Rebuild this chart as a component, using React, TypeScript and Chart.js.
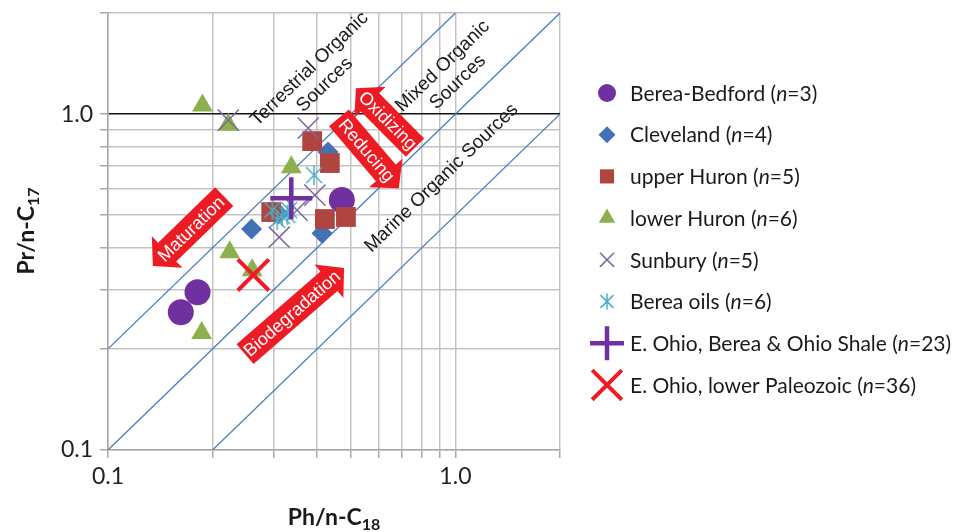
import React, { useEffect, useRef } from 'react';
import { Chart, registerables } from 'chart.js';

Chart.register(...registerables);

// ---------- data ----------
const bereaBedford = [ { x: 0.471, y: 0.555 }, { x: 0.181, y: 0.295 }, { x: 0.162, y: 0.257 } ];
const cleveland = [ { x: 0.259, y: 0.455 }, { x: 0.413, y: 0.442 }, { x: 0.43, y: 0.771 }, { x: 0.31, y: 0.505 } ];
const upperHuron = [ { x: 0.387, y: 0.831 }, { x: 0.435, y: 0.715 }, { x: 0.295, y: 0.511 }, { x: 0.421, y: 0.487 }, { x: 0.484, y: 0.494 } ];
const lowerHuron = [ { x: 0.187, y: 1.06 }, { x: 0.222, y: 0.93 }, { x: 0.337, y: 0.695 }, { x: 0.224, y: 0.388 }, { x: 0.26, y: 0.343 }, { x: 0.186, y: 0.223 } ];
const sunbury = [ { x: 0.222, y: 0.96 }, { x: 0.377, y: 0.908 }, { x: 0.394, y: 0.574 }, { x: 0.311, y: 0.43 }, { x: 0.35, y: 0.518 } ];
const bereaOils = [ { x: 0.392, y: 0.658 }, { x: 0.297, y: 0.518 }, { x: 0.317, y: 0.497 }, { x: 0.332, y: 0.518 }, { x: 0.307, y: 0.484 }, { x: 0.328, y: 0.501 } ];
const eOhioBereaShale = [ { x: 0.337, y: 0.562 } ];
const eOhioLowerPaleozoic = [ { x: 0.262, y: 0.332 } ];

const seriesNames = [
  'Berea-Bedford', 'Cleveland', 'upper Huron', 'lower Huron', 'Sunbury', 'Berea oils',
  'E. Ohio, Berea & Ohio Shale', 'E. Ohio, lower Paleozoic',
];
const seriesCounts = [3, 4, 5, 6, 5, 6, 23, 36];
const seriesData = [bereaBedford, cleveland, upperHuron, lowerHuron, sunbury, bereaOils, eOhioBereaShale, eOhioLowerPaleozoic];

// Pr/Ph ratio reference lines (Pr/nC17 = k * Ph/nC18)
const ratioLineTerrestrial = [ { x: 0.1, y: 0.2 }, { x: 1, y: 2 } ];
const ratioLineMixed = [ { x: 0.1, y: 0.1 }, { x: 2, y: 2 } ];
const ratioLineMarine = [ { x: 0.2, y: 0.1 }, { x: 2, y: 1 } ];

const axisTicks = [0.1, 0.2, 0.3, 0.4, 0.5, 0.6, 0.7, 0.8, 0.9, 1, 2];
const labeledTickValues = [0.1, 1];
const labeledTickTexts = ['0.1', '1.0'];

const regionLabels = [
  { lines: ['Terrestrial Organic', 'Sources'], x: 0.40, y: 1.29 },
  { lines: ['Mixed Organic', 'Sources'], x: 0.967, y: 1.315 },
  { lines: ['Marine Organic Sources'], x: 0.912, y: 0.645 },
];
const processArrows = [
  { text: 'Maturation', from: { x: 0.216, y: 0.568 }, to: { x: 0.1346, y: 0.353 } },
  { text: 'Oxidizing', from: { x: 0.765, y: 0.795 }, to: { x: 0.517, y: 1.195 } },
  { text: 'Reducing', from: { x: 0.462, y: 0.975 }, to: { x: 0.687, y: 0.602 } },
  { text: 'Biodegradation', from: { x: 0.248, y: 0.193 }, to: { x: 0.478, y: 0.348 } },
];

// ---------- styles ----------
const markerStyles = [
  { kind: 'circle', color: '#7030a0', radius: 13, bw: 0, lr: 9, lw: 0 },
  { kind: 'diamond', color: '#4272b5', radius: 10.5, bw: 0, lr: 8.5, lw: 0 },
  { kind: 'square', color: '#b0453f', radius: 14, bw: 0, lr: 10, lw: 0 },
  { kind: 'triangle', color: '#8cb04c', radius: 12, bw: 0, lr: 9.5, lw: 0 },
  { kind: 'x', color: '#8064a2', radius: 15, bw: 1.5, lr: 10, lw: 1.5 },
  { kind: 'asterisk', color: '#4bacc6', radius: 10, bw: 1.5, lr: 8, lw: 1.5 },
  { kind: 'plus', color: '#7030a0', radius: 21, bw: 4.5, lr: 17, lw: 4.5 },
  { kind: 'bigx', color: '#ee1c25', radius: 22, bw: 4, lr: 21, lw: 4 },
];

function makeAsterisk(size: number, color: string, lw: number) {
  const c = document.createElement('canvas');
  c.width = size; c.height = size;
  const g = c.getContext('2d')!;
  const h = size / 2;
  const r = h - 1;
  const d = r * 0.8;
  g.strokeStyle = color; g.lineWidth = lw; g.lineCap = 'butt';
  g.beginPath();
  g.moveTo(h, h - r); g.lineTo(h, h + r);
  g.moveTo(h - d, h - d); g.lineTo(h + d, h + d);
  g.moveTo(h + d, h - d); g.lineTo(h - d, h + d);
  g.stroke();
  return c;
}

function drawMarker(ctx: CanvasRenderingContext2D, kind: string, x: number, y: number, r: number, color: string, lw: number) {
  ctx.save();
  ctx.fillStyle = color; ctx.strokeStyle = color; ctx.lineWidth = lw;
  ctx.beginPath();
  if (kind === 'circle') { ctx.arc(x, y, r, 0, Math.PI * 2); ctx.fill(); }
  else if (kind === 'diamond') { ctx.moveTo(x - r, y); ctx.lineTo(x, y - r); ctx.lineTo(x + r, y); ctx.lineTo(x, y + r); ctx.closePath(); ctx.fill(); }
  else if (kind === 'square') { const s = r * 0.7071; ctx.rect(x - s, y - s, 2 * s, 2 * s); ctx.fill(); }
  else if (kind === 'triangle') {
    ctx.moveTo(x, y - r); ctx.lineTo(x + r * 0.866, y + r * 0.5); ctx.lineTo(x - r * 0.866, y + r * 0.5); ctx.closePath(); ctx.fill();
  }
  else if (kind === 'x' || kind === 'bigx') {
    const d = r * 0.7071;
    ctx.moveTo(x - d, y - d); ctx.lineTo(x + d, y + d); ctx.moveTo(x + d, y - d); ctx.lineTo(x - d, y + d); ctx.stroke();
  }
  else if (kind === 'asterisk') {
    const d = r * 0.8;
    ctx.moveTo(x, y - r); ctx.lineTo(x, y + r);
    ctx.moveTo(x - d, y - d); ctx.lineTo(x + d, y + d); ctx.moveTo(x + d, y - d); ctx.lineTo(x - d, y + d); ctx.stroke();
  }
  else if (kind === 'plus') {
    ctx.moveTo(x - r, y); ctx.lineTo(x + r, y); ctx.moveTo(x, y - r); ctx.lineTo(x, y + r); ctx.stroke();
  }
  ctx.restore();
}

function drawArrow(ctx: CanvasRenderingContext2D, x1: number, y1: number, x2: number, y2: number, text: string) {
  const dx = x2 - x1, dy = y2 - y1;
  const len = Math.hypot(dx, dy);
  const ang = Math.atan2(dy, dx);
  const shaftW = 26, headW = 44, headL = 20;
  ctx.save();
  ctx.translate(x1, y1);
  ctx.rotate(ang);
  ctx.beginPath();
  ctx.moveTo(0, -shaftW / 2);
  ctx.lineTo(len - headL, -shaftW / 2);
  ctx.lineTo(len - headL, -headW / 2);
  ctx.lineTo(len, 0);
  ctx.lineTo(len - headL, headW / 2);
  ctx.lineTo(len - headL, shaftW / 2);
  ctx.lineTo(0, shaftW / 2);
  ctx.closePath();
  ctx.fillStyle = '#ed1c24';
  ctx.fill();
  ctx.translate((len - headL * 0.35) / 2, 0);
  if (Math.abs(ang) > Math.PI / 2) ctx.rotate(Math.PI);
  ctx.fillStyle = '#ffffff';
  ctx.font = '18px "Liberation Sans", Arial, sans-serif';
  ctx.textAlign = 'center';
  ctx.textBaseline = 'middle';
  ctx.fillText(text, 0, 1);
  ctx.restore();
}

function drawSubscripted(ctx: CanvasRenderingContext2D, main: string, sub: string, x: number, y: number, rotate: boolean) {
  ctx.save();
  ctx.fillStyle = '#1a1a1a';
  ctx.font = 'bold 23px Lato, sans-serif';
  const w1 = ctx.measureText(main).width;
  ctx.font = 'bold 16px Lato, sans-serif';
  const w2 = ctx.measureText(sub).width;
  const total = w1 + w2;
  ctx.translate(x, y);
  if (rotate) ctx.rotate(-Math.PI / 2);
  ctx.textAlign = 'left';
  ctx.textBaseline = 'alphabetic';
  ctx.font = 'bold 23px Lato, sans-serif';
  ctx.fillText(main, -total / 2, 0);
  ctx.font = 'bold 16px Lato, sans-serif';
  ctx.fillText(sub, -total / 2 + w1, 5);
  ctx.restore();
}

const decorPlugin = {
  id: 'decor',
  afterDatasetsDraw(chart: any) {
    const ctx: CanvasRenderingContext2D = chart.ctx;
    const xs = chart.scales.x, ys = chart.scales.y;
    // region labels
    ctx.save();
    ctx.fillStyle = '#1a1a1a';
    ctx.font = '19px "Liberation Sans", Arial, sans-serif';
    ctx.textAlign = 'center';
    ctx.textBaseline = 'middle';
    regionLabels.forEach((lab) => {
      const px = xs.getPixelForValue(lab.x), py = ys.getPixelForValue(lab.y);
      ctx.save();
      ctx.translate(px, py);
      ctx.rotate(-44 * Math.PI / 180);
      const lh = 22;
      const n = lab.lines.length;
      lab.lines.forEach((t, i) => {
        ctx.fillText(t, 0, (i - (n - 1) / 2) * lh);
      });
      ctx.restore();
    });
    ctx.restore();
    processArrows.forEach((a) => {
      drawArrow(ctx, xs.getPixelForValue(a.from.x), ys.getPixelForValue(a.from.y),
        xs.getPixelForValue(a.to.x), ys.getPixelForValue(a.to.y), a.text);
    });
  },
  afterDraw(chart: any) {
    const ctx: CanvasRenderingContext2D = chart.ctx;
    // legend
    const lx = 607, tx = 630, y0 = 93, dy = 41.7;
    seriesNames.forEach((name, i) => {
      const st = markerStyles[i];
      const y = y0 + i * dy;
      drawMarker(ctx, st.kind, lx, y, st.lr, st.color, st.lw);
      ctx.save();
      ctx.fillStyle = '#1a1a1a';
      ctx.textBaseline = 'middle';
      ctx.textAlign = 'left';
      const parts: [string, boolean][] = [[name + ' (', false], ['n', true], ['=' + seriesCounts[i] + ')', false]];
      let x = tx;
      parts.forEach(([t, it]) => {
        ctx.font = (it ? 'italic ' : '') + '21px Lato, sans-serif';
        ctx.fillText(t, x, y + 1);
        x += ctx.measureText(t).width;
      });
      ctx.restore();
    });
    // axis titles
    drawSubscripted(ctx, 'Ph/n-C', '18', 334, 525, false);
    drawSubscripted(ctx, 'Pr/n-C', '17', 34, 231, true);
  },
};

export default function App() {
  const ref = useRef<HTMLCanvasElement>(null);
  useEffect(() => {
    document.body.style.margin = '0';
    const asterisk = makeAsterisk(22, markerStyles[5].color, markerStyles[5].bw);
    const n = seriesData.length;
    const pointSets = seriesData.map((data, i) => {
      const st = markerStyles[i];
      let pointStyle: any = 'circle';
      if (st.kind === 'diamond') pointStyle = 'rectRot';
      else if (st.kind === 'square') pointStyle = 'rect';
      else if (st.kind === 'triangle') pointStyle = 'triangle';
      else if (st.kind === 'x' || st.kind === 'bigx') pointStyle = 'crossRot';
      else if (st.kind === 'plus') pointStyle = 'cross';
      else if (st.kind === 'asterisk') pointStyle = asterisk;
      return {
        label: seriesNames[i],
        data,
        pointStyle,
        pointRadius: st.radius,
        pointBackgroundColor: st.color,
        pointBorderColor: st.color,
        pointBorderWidth: st.bw,
        showLine: false,
        order: n - i,
      };
    });
    const lineSet = (data: any[]) => ({
      data,
      showLine: true,
      borderColor: '#4a7ebb',
      borderWidth: 1.3,
      pointRadius: 0,
      fill: false,
      order: 100,
    });
    const labelFor = (v: number) => {
      const idx = labeledTickValues.findIndex((t) => Math.abs(t - v) < 1e-9);
      return idx >= 0 ? labeledTickTexts[idx] : '';
    };
    const buildTicks = (s: any) => { s.ticks = axisTicks.map((v) => ({ value: v })); };
    const chart = new Chart(ref.current!, {
      type: 'scatter',
      data: {
        datasets: [
          lineSet(ratioLineTerrestrial),
          lineSet(ratioLineMixed),
          lineSet(ratioLineMarine),
          ...pointSets,
        ] as any,
      },
      options: {
        responsive: false,
        animation: false,
        devicePixelRatio: 1,
        layout: { autoPadding: false, padding: { left: 0, top: 13, right: 400, bottom: 0 } },
        plugins: { legend: { display: false }, tooltip: { enabled: false } },
        scales: {
          x: {
            type: 'logarithmic',
            min: 0.1,
            max: 2,
            afterBuildTicks: buildTicks,
            afterFit: (s: any) => { s.height = 82; s.paddingLeft = 0; s.paddingRight = 0; },
            ticks: {
              autoSkip: false,
              maxRotation: 0,
              padding: 5,
              color: '#222',
              font: { family: 'Lato', size: 23 },
              callback: (v: any) => labelFor(Number(v)),
            },
            grid: { color: '#c3c3c3', lineWidth: 1.5, tickLength: 8, tickColor: '#a8a8a8' },
            border: { color: '#a8a8a8', width: 1.5 },
          },
          y: {
            type: 'logarithmic',
            min: 0.1,
            max: 2,
            afterBuildTicks: buildTicks,
            afterFit: (s: any) => { s.width = 108; s.paddingTop = 0; s.paddingBottom = 0; },
            ticks: {
              autoSkip: false,
              padding: 7,
              color: '#222',
              font: { family: 'Lato', size: 23 },
              callback: (v: any) => labelFor(Number(v)),
            },
            grid: {
              color: (c: any) => (c.tick && Math.abs(c.tick.value - 1) < 1e-9 ? '#111111' : '#c3c3c3'),
              lineWidth: 1.5,
              tickLength: 8,
              tickColor: '#a8a8a8',
            },
            border: { color: '#a8a8a8', width: 1.5 },
          },
        },
      } as any,
      plugins: [decorPlugin],
    });
    return () => chart.destroy();
  }, []);
  return (
    <div style={{ position: 'fixed', left: 0, top: 0, width: 960, height: 532, background: '#fff' }}>
      <canvas ref={ref} width={960} height={532} style={{ width: 960, height: 532, display: 'block' }} />
    </div>
  );
}
